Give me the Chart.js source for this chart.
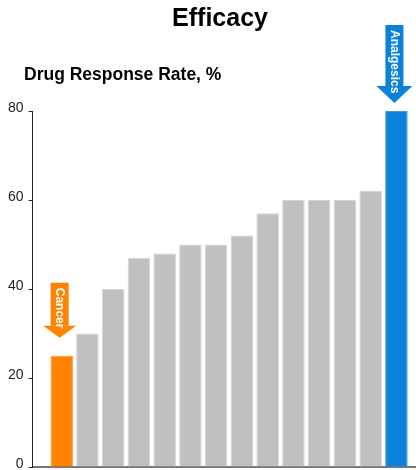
<!DOCTYPE html>
<html lang="en">
<head>
  <meta charset="UTF-8">
  <title>Efficacy</title>
  <script src="https://cdn.jsdelivr.net/npm/chart.js"></script>
  <style>
    body {
      margin: 0;
      background: #fff;
    }
    #chart {
      display: block;
    }
  </style>
</head>
<body>

<canvas id="chart" width="416" height="470"></canvas>

<script>
  // Response rate by drug class, lowest to highest
  const drugClasses = ['Cancer', '', '', '', '', '', '', '', '', '', '', '', '', 'Analgesics'];
  const responseRate = [25, 30, 40, 47, 48, 50, 50, 52, 57, 60, 60, 60, 62, 80];
  const yTicks = [0, 20, 40, 60, 80];

  const ORANGE = '#ff8200';
  const BLUE = '#0a82dc';
  const GREY = '#c0c0c0';

  const barColors = drugClasses.map((c, i) =>
    i === 0 ? ORANGE : i === drugClasses.length - 1 ? BLUE : GREY);
  const edgeColors = drugClasses.map((c, i) =>
    i === 0 ? '#ff9a33' : i === drugClasses.length - 1 ? '#3a9be2' : '#d4d4d4');

  // arrows pointing down at the highlighted bars
  const callouts = [
    { index: 0, text: 'Cancer', color: ORANGE, gap: 18, shaft: 43, head: 12, headW: 33 },
    { index: drugClasses.length - 1, text: 'Analgesics', color: BLUE, gap: 8, shaft: 61, head: 17, headW: 36 }
  ];

  const textPlugin = {
    id: 'textPlugin',
    afterDatasetsDraw(chart) {
      const ctx = chart.ctx;
      const meta = chart.getDatasetMeta(0);
      callouts.forEach(c => {
        const bar = meta.data[c.index];
        const cx = bar.x - 2;
        const tip = bar.y - c.gap;
        const shaftW = 18;
        const top = tip - c.head - c.shaft;
        ctx.save();
        ctx.fillStyle = c.color;
        ctx.fillRect(cx - shaftW / 2, top, shaftW, c.shaft);
        ctx.beginPath();
        ctx.moveTo(cx - c.headW / 2, top + c.shaft);
        ctx.lineTo(cx + c.headW / 2, top + c.shaft);
        ctx.lineTo(cx, tip);
        ctx.closePath();
        ctx.fill();
        // label reads top to bottom
        ctx.translate(cx, top + 5);
        ctx.rotate(Math.PI / 2);
        ctx.fillStyle = '#fff';
        ctx.font = 'bold 12px "Liberation Sans", Arial, sans-serif';
        ctx.textAlign = 'left';
        ctx.textBaseline = 'middle';
        ctx.fillText(c.text, 0, 0);
        ctx.restore();
      });
    },
    afterDraw(chart) {
      const ctx = chart.ctx;
      ctx.save();
      ctx.fillStyle = '#000';
      ctx.textBaseline = 'alphabetic';
      ctx.textAlign = 'center';
      ctx.font = 'bold 25px "Liberation Sans", Arial, sans-serif';
      ctx.fillText('Efficacy', 220, 26);
      ctx.textAlign = 'left';
      ctx.font = 'bold 17.5px "Liberation Sans", Arial, sans-serif';
      ctx.fillText('Drug Response Rate, %', 24, 80);
      ctx.restore();
    }
  };

  const ctx = document.getElementById('chart').getContext('2d');
  new Chart(ctx, {
    type: 'bar',
    data: {
      datasets: [{
        data: responseRate.map((v, i) => ({ x: i, y: v })),
        backgroundColor: barColors,
        borderColor: edgeColors,
        borderWidth: 1,
        barPercentage: 0.875,
        categoryPercentage: 1
      }]
    },
    options: {
      responsive: false,
      animation: false,
      layout: {
        padding: { top: 111, right: 0, bottom: 3, left: 3 }
      },
      plugins: {
        legend: { display: false },
        tooltip: { enabled: false }
      },
      scales: {
        x: {
          type: 'linear',
          offset: false,
          min: -1.13,
          max: 13.76,
          ticks: { display: false },
          grid: { display: false, drawTicks: false, offset: false },
          border: { color: '#777', width: 2 }
        },
        y: {
          min: 0,
          max: 80,
          afterBuildTicks: axis => { axis.ticks = yTicks.map(v => ({ value: v })); },
          afterFit: axis => { axis.paddingTop = 0; axis.paddingBottom = 0; },
          ticks: {
            color: '#222',
            padding: 5,
            labelOffset: -3,
            font: { family: '"Liberation Sans", Arial, sans-serif', size: 14 }
          },
          grid: { drawOnChartArea: false, tickLength: 4, color: '#222' },
          border: { color: '#222', width: 1 }
        }
      }
    },
    plugins: [textPlugin]
  });
</script>

</body>
</html>
